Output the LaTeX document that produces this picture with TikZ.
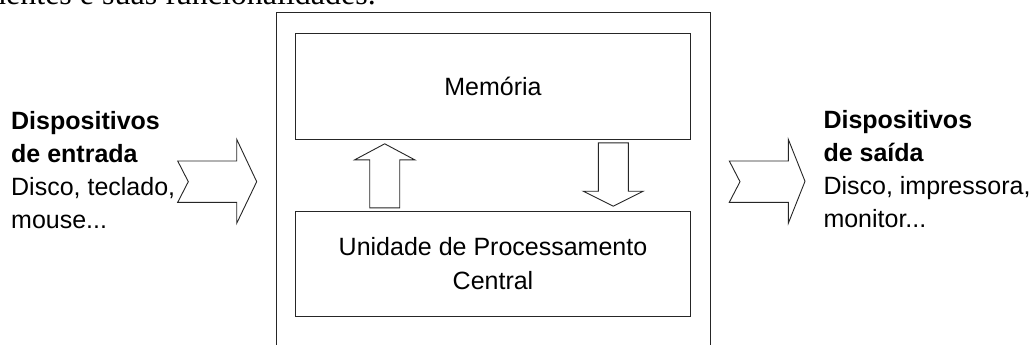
\documentclass[tikz,border=0pt]{standalone}
\usepackage{fontspec}
\setmainfont{Liberation Sans}
\newfontfamily\textoserif{Liberation Serif}
\begin{document}
\begin{tikzpicture}[x=1pt,y=-1pt,
		caixa/.style={draw=black!85,line width=.9pt,minimum width=394.6pt,minimum height=105.7pt,align=center,inner sep=0pt,font=\fontsize{25}{34}\selectfont},
		seta/.style={draw=black!85,line width=.9pt,fill=white,line join=miter},
		rotulo/.style={anchor=north west,align=left,inner sep=0pt,font=\fontsize{25}{33}\selectfont}]
		\useasboundingbox (0,0) rectangle (1030,345);
		\node[anchor=base east,inner sep=0pt,font=\textoserif\fontsize{32}{38}\selectfont] (titulo) at (376,5) {componentes e suas funcionalidades.};
		\draw[black!85,line width=.9pt] (276,360) -- (276,12) -- (710,12) -- (710,360);
		\node[caixa] (memoria) at (493,86.2) {Memória};
		\node[caixa] (ucp) at (493,263.8) {Unidade de Processamento\\Central};
		\coordinate (pontaSobe) at ([xshift=-108.3pt,yshift=-4.3pt]memoria.south);
		\coordinate (pontaDesce) at ([xshift=120.3pt,yshift=4.3pt]ucp.north);
		\draw[seta] (pontaSobe) -- ++(30,16) -- ++(-15,0) -- ++(0,48) -- ++(-30,0) -- ++(0,-48) -- ++(-15,0) -- cycle;
		\draw[seta] (pontaDesce) -- ++(30,-15) -- ++(-15,0) -- ++(0,-48.4) -- ++(-30,0) -- ++(0,48.4) -- ++(-15,0) -- cycle;
		\draw[seta] (177.7,161) -- ++(59,0) -- ++(0,-21.7) -- ++(20,42.4) -- ++(-20,41.6) -- ++(0,-21) -- ++(-59,0) -- ++(10.6,-20.6) -- cycle;
		\draw[seta] (729.3,161) -- ++(59,0) -- ++(0,-21.7) -- ++(16.7,42) -- ++(-16.7,42) -- ++(0,-21) -- ++(-59,0) -- ++(10.7,-20.6) -- cycle;
		\node[rotulo] (entrada) at (11,111.4) {\textbf{Dispositivos}\\\textbf{de entrada}\\Disco, teclado,\\mouse...};
		\node[rotulo] (saida) at (823.3,110.5) {\textbf{Dispositivos}\\\textbf{de saída}\\Disco, impressora,\\monitor...};
	\end{tikzpicture}
\end{document}
